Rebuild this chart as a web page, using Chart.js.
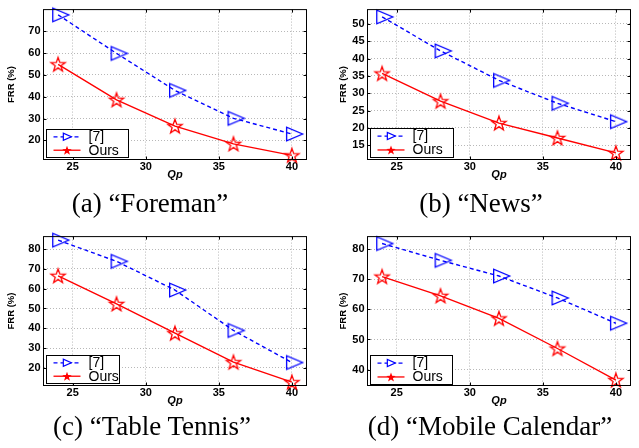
<!DOCTYPE html>
<html><head><meta charset="utf-8">
<script src="https://cdn.jsdelivr.net/npm/chart.js@4/dist/chart.umd.min.js"></script>
<style>
body{margin:0;background:#fff;width:639px;height:448px;position:relative;overflow:hidden}
canvas{position:absolute}
.cap{position:absolute;font-family:"Liberation Serif","Times New Roman",serif;font-size:27px;white-space:nowrap;transform:translateX(-50%);line-height:27px;color:#000}
</style></head><body>
<canvas id="ca" width="320" height="200" style="left:0;top:0"></canvas>
<canvas id="cb" width="319" height="200" style="left:320px;top:0"></canvas>
<canvas id="cc" width="320" height="199" style="left:0;top:227px"></canvas>
<canvas id="cd" width="319" height="199" style="left:320px;top:227px"></canvas>
<div class="cap" id="capA" style="left:150px;top:190px"></div>
<div class="cap" id="capB" style="left:481px;top:190px"></div>
<div class="cap" id="capC" style="left:152px;top:413px"></div>
<div class="cap" id="capD" style="left:490px;top:413px"></div>
<script>
// ---- data ----
const qp = [24, 28, 32, 36, 40];
const xTicks = [25, 30, 35, 40];
const seriesLabels = ['[7]', 'Ours'];

const foremanRef  = [77.6, 59.9, 42.9, 30.1, 22.9];
const foremanOurs = [54.9, 38.6, 26.5, 18.4, 13.1];
const foremanYTicks = [20, 30, 40, 50, 60, 70];

const newsRef  = [52.0, 42.2, 33.7, 27.1, 21.8];
const newsOurs = [35.7, 27.7, 21.4, 17.1, 12.8];
const newsYTicks = [15, 20, 25, 30, 35, 40, 45, 50];

const tennisRef  = [84.5, 73.8, 59.3, 38.9, 22.7];
const tennisOurs = [66.5, 52.3, 37.5, 22.9, 12.8];
const tennisYTicks = [20, 30, 40, 50, 60, 70, 80];

const mobileRef  = [81.9, 76.3, 71.1, 63.8, 55.4];
const mobileOurs = [70.9, 64.5, 57.0, 47.0, 36.5];
const mobileYTicks = [40, 50, 60, 70, 80];

const captions = ['(a) \u201cForeman\u201d', '(b) \u201cNews\u201d', '(c) \u201cTable Tennis\u201d', '(d) \u201cMobile Calendar\u201d'];
const xTitle = 'Qp';
const yTitle = 'FRR (%)';

// ---- styling ----
const BLUE = '#0000ff', RED = '#ff0000';
const SANS = '"Liberation Sans", Arial, Helvetica, sans-serif';

function starPath(ctx, cx, cy, R, r) {
  ctx.beginPath();
  for (let i = 0; i < 10; i++) {
    const ang = -Math.PI / 2 + i * Math.PI / 5;
    const rad = i % 2 ? r : R;
    ctx.lineTo(cx + rad * Math.cos(ang), cy + rad * Math.sin(ang));
  }
  ctx.closePath();
}
function triPath(ctx, cx, cy, w, h) {
  ctx.beginPath();
  ctx.moveTo(cx - w / 3, cy - h / 2);
  ctx.lineTo(cx - w / 3, cy + h / 2);
  ctx.lineTo(cx + 2 * w / 3, cy);
  ctx.closePath();
}
const triImg = document.createElement('canvas');
triImg.width = 26; triImg.height = 18;
(function () {
  const c = triImg.getContext('2d');
  c.strokeStyle = BLUE; c.lineWidth = 1.3;
  triPath(c, 13, 9, 16, 13.5); c.stroke();
})();
const starImg = document.createElement('canvas');
starImg.width = 20; starImg.height = 20;
(function () {
  const c = starImg.getContext('2d');
  c.strokeStyle = RED; c.lineWidth = 1.3; c.lineJoin = 'miter';
  starPath(c, 10, 10.6, 7.5, 3); c.stroke();
})();

const framePlugin = {
  id: 'frameLegend',
  afterDatasetsDraw(chart, args, opts) {
    const { ctx, chartArea: a, scales: { x, y } } = chart;
    ctx.save();
    ctx.setLineDash([]);
    ctx.strokeStyle = '#000'; ctx.lineWidth = 1;
    ctx.strokeRect(a.left, a.top, a.right - a.left, a.bottom - a.top);
    ctx.beginPath();
    x.ticks.forEach(t => {
      const px = Math.round(x.getPixelForValue(t.value)) + 0.5;
      ctx.moveTo(px, a.bottom); ctx.lineTo(px, a.bottom - 3);
      ctx.moveTo(px, a.top); ctx.lineTo(px, a.top + 3);
    });
    y.ticks.forEach(t => {
      const py = Math.round(y.getPixelForValue(t.value)) + 0.5;
      ctx.moveTo(a.left, py); ctx.lineTo(a.left + 3, py);
      ctx.moveTo(a.right, py); ctx.lineTo(a.right - 3, py);
    });
    ctx.stroke();
    // legend box
    const L = opts.box;
    const bx = Math.round(a.left + L.dx) + 0.5, by = Math.round(a.bottom - L.dy - L.h) + 0.5;
    ctx.fillStyle = '#fff';
    ctx.fillRect(bx, by, L.w, L.h);
    ctx.strokeRect(bx, by, L.w, L.h);
    chart.data.datasets.forEach((ds, i) => {
      const ry = by + L.h * (i === 0 ? 0.26 : 0.74);
      ctx.strokeStyle = ds.borderColor; ctx.lineWidth = 1.3;
      ctx.setLineDash(ds.borderDash || []);
      ctx.beginPath(); ctx.moveTo(bx + 7, ry); ctx.lineTo(bx + 34, ry); ctx.stroke();
      ctx.setLineDash([]);
      if (i === 0) {
        ctx.lineWidth = 1.2; triPath(ctx, bx + 19.5, ry, 8, 7); ctx.fillStyle = '#fff'; ctx.fill(); ctx.stroke();
      } else {
        ctx.fillStyle = RED; starPath(ctx, bx + 20.5, ry + 0.5, 5, 2); ctx.fill();
      }
      ctx.fillStyle = '#000';
      ctx.font = '14px ' + SANS;
      ctx.textBaseline = 'middle'; ctx.textAlign = 'left';
      ctx.fillText(ds.label, bx + L.tx, ry + 0.5);
    });
    ctx.restore();
  }
};

function makeChart(id, ref, ours, yTickVals, ymin, ymax, yw, padRight, yTitlePad, box) {
  new Chart(document.getElementById(id), {
    type: 'line',
    data: {
      datasets: [
        { label: seriesLabels[0], data: qp.map((q, i) => ({ x: q, y: ref[i] })),
          borderColor: BLUE, borderWidth: 1.4, borderDash: [4, 3], pointStyle: triImg,
          pointRadius: 8, tension: 0, clip: false, fill: false },
        { label: seriesLabels[1], data: qp.map((q, i) => ({ x: q, y: ours[i] })),
          borderColor: RED, borderWidth: 1.4, pointStyle: starImg,
          pointRadius: 8, tension: 0, clip: false, fill: false }
      ]
    },
    options: {
      responsive: false, animation: false, devicePixelRatio: 1,
      layout: { autoPadding: false, padding: { top: 0.5, right: padRight, left: 0, bottom: 0 } },
      plugins: { legend: { display: false }, tooltip: { enabled: false }, frameLegend: { box } },
      scales: {
        x: {
          type: 'linear', min: 23, max: 41,
          afterBuildTicks: s => { s.ticks = xTicks.map(v => ({ value: v })); },
          afterFit: s => { s.height = 40.5; },
          ticks: { autoSkip: false, maxRotation: 0, padding: 1, color: '#000',
                   font: { family: SANS, size: 11, weight: 'bold' } },
          grid: { color: '#b8b8b8', lineWidth: 1, drawTicks: false },
          border: { display: false, dash: [1, 2] },
          title: { display: true, text: xTitle, color: '#000',
                   font: { family: SANS, size: 11, weight: 'bold', style: 'italic' },
                   padding: { top: 0, bottom: 18.4 } }
        },
        y: {
          type: 'linear', min: ymin, max: ymax,
          afterBuildTicks: s => { s.ticks = yTickVals.map(v => ({ value: v })); },
          afterFit: s => { s.width = yw; },
          ticks: { autoSkip: false, padding: 3, color: '#000',
                   font: { family: SANS, size: 11, weight: 'bold' } },
          grid: { color: '#b8b8b8', lineWidth: 1, drawTicks: false },
          border: { display: false, dash: [1, 2] },
          title: { display: true, text: yTitle, color: '#000',
                   font: { family: SANS, size: 9.5, weight: 'bold' },
                   padding: { top: yTitlePad, bottom: 0 } }
        }
      }
    },
    plugins: [framePlugin]
  });
}

makeChart('ca', foremanRef, foremanOurs, foremanYTicks, 11.2, 80, 43.5, 13.5, 6,
          { dx: 2.2, dy: 2.8, w: 82, h: 28, tx: 42 });
makeChart('cb', newsRef, newsOurs, newsYTicks, 10.9, 54.1, 47.5, 8.5, 17.6,
          { dx: 2.2, dy: 2.2, w: 83, h: 29, tx: 42 });
makeChart('cc', tennisRef, tennisOurs, tennisYTicks, 11.1, 86.3, 43.5, 13.5, 5.3,
          { dx: 2.2, dy: 2.2, w: 73, h: 28, tx: 42 });
makeChart('cd', mobileRef, mobileOurs, mobileYTicks, 34.7, 84.2, 47.5, 8.5, 17.6,
          { dx: 2.2, dy: 1.2, w: 82, h: 29, tx: 42 });

['capA', 'capB', 'capC', 'capD'].forEach((id, i) => { document.getElementById(id).textContent = captions[i]; });
</script>
</body></html>
